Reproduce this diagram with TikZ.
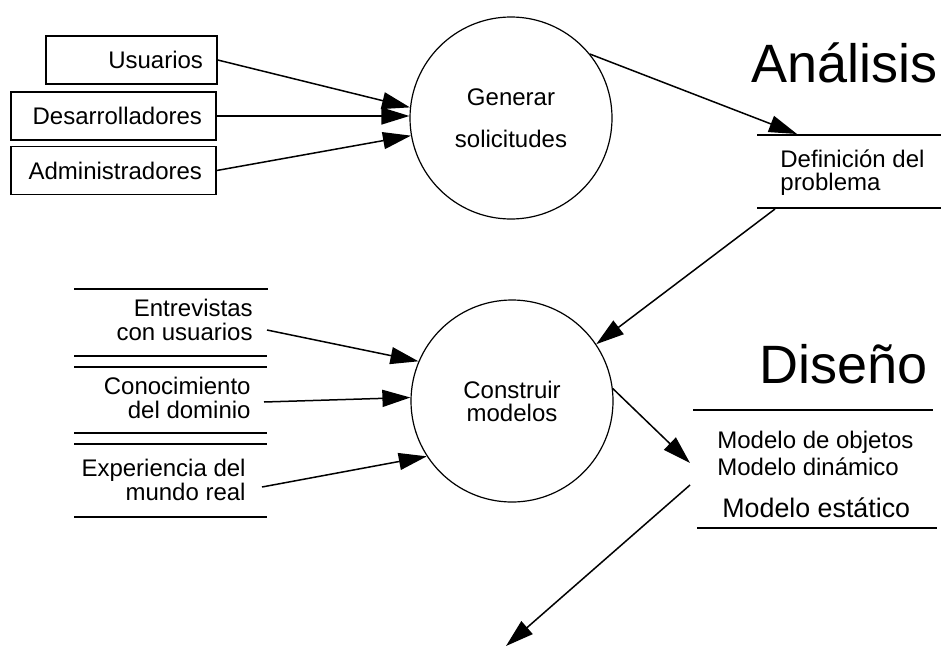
\documentclass[tikz,border=0pt]{standalone}
\usepackage{fontspec}
\setmainfont{Liberation Sans}
\usetikzlibrary{arrows.meta}

\tikzset{
  entity/.style={draw, line width=0.75pt, minimum height=24pt, inner xsep=7pt, inner ysep=0pt, align=right, font=\fontsize{12}{12}\selectfont},
  proc/.style={draw, circle, line width=0.6pt, minimum size=101pt, inner sep=0pt, align=center},
  store/.style={line width=1.4pt},
  flow/.style={line width=0.75pt, -{Triangle[length=14pt,width=8.5pt]}},
  txt/.style={inner sep=0pt, font=\fontsize{12}{12}\selectfont},
  phase/.style={inner sep=0pt, font=\fontsize{27}{27}\selectfont}
}

\begin{document}
\begin{tikzpicture}[x=0.5pt,y=-0.5pt]
  \useasboundingbox (0,0) rectangle (941,648);

  % external entities
  \node[entity, text width=71.5pt] (usu) at (131.5,60) {Usuarios};
  \node[entity, text width=88.5pt] (des) at (113.5,116) {Desarrolladores};
  \node[entity, text width=88.5pt] (adm) at (113.5,170.5) {Administradores};

  % processes
  \node[proc, font=\fontsize{12}{12}\selectfont] (gen) at (511,118) {Generar\\[9pt]solicitudes};
  \node[proc, font=\fontsize{12}{11.5}\selectfont] (con) at (512,401) {Construir\\modelos};

  % phase titles
  \node[phase, anchor=base east] (ana) at (938,82) {Análisis};
  \node[phase, anchor=base east] (dis) at (928,383) {Diseño};

  % data store: problem definition
  \draw[store] (757,135) -- (941,135);
  \draw[store] (757,208) -- (941,208);
  \node[txt, anchor=west, align=left, font=\fontsize{12}{11.5}\selectfont] (def) at (780,173)
    {Definición del\\problema};

  % data stores: knowledge sources
  \draw[store] (74,289) -- (268,289);
  \draw[store] (74,356) -- (267,356);
  \draw[store] (74,367) -- (267,367);
  \draw[store] (74,433) -- (267,433);
  \draw[store] (74,444) -- (267,444);
  \draw[store] (74,517) -- (267,517);
  \node[txt, anchor=east, align=right] (ent) at (253,320) {Entrevistas\\con usuarios};
  \node[txt, anchor=east, align=right] (cono) at (251,397.5) {Conocimiento\\del dominio};
  \node[txt, anchor=east, align=right] (exp) at (246,479.5) {Experiencia del\\mundo real};

  % data store: models
  \draw[store] (693,410) -- (933,410);
  \draw[store] (697,528) -- (937,528);
  \node[txt, anchor=west, align=left, font=\fontsize{12}{13.5}\selectfont] (mod) at (717,453)
    {Modelo de objetos\\Modelo dinámico};
  \node[txt, anchor=base west, font=\fontsize{13.4}{13.4}\selectfont] (est) at (722,517) {Modelo estático};

  % free ends of the flows
  \coordinate (defin) at (797,134);
  \coordinate (defout) at (775,209);
  \coordinate (disin) at (690,463);
  \coordinate (disout) at (690,485);
  \coordinate (sig) at (506,646);

  % flows
  \draw[flow] (usu.east) -- (gen.174);
  \draw[flow] (des.east) -- (des.east -| gen.west);
  \draw[flow] (adm.east) -- (gen.190);
  \draw[flow] (gen.39) -- (defin);
  \draw[flow] (defout) -- (con.34);
  \draw[flow] ([shift={(14,10)}]ent.east) -- (con.157);
  \draw[flow] ([shift={(13,4.5)}]cono.east) -- (cono.east -| con.west);
  \draw[flow] ([shift={(16,7.5)}]exp.east) -- (con.213);
  \draw[flow] (con.7) -- (disin);
  \draw[flow] (disout) -- (sig);

\end{tikzpicture}
\end{document}
